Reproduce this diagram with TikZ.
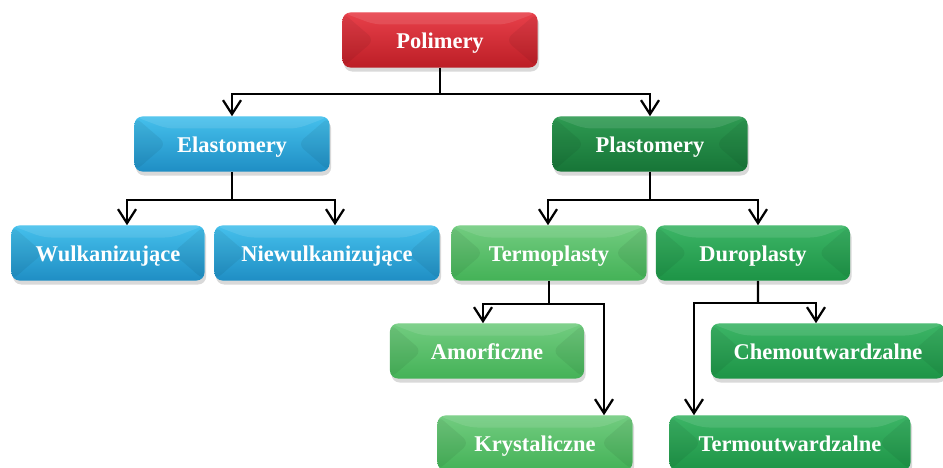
\documentclass[tikz,border=0pt]{standalone}
\usepackage{fontspec}
\setmainfont{Liberation Serif}
\usepackage{tikz}
\usetikzlibrary{arrows.meta, shadows, positioning}
\definecolor{redtop}{HTML}{E8404A}
\definecolor{redbot}{HTML}{BC1E26}
\definecolor{bluetop}{HTML}{45C0EC}
\definecolor{bluebot}{HTML}{1F8EC4}
\definecolor{dgreentop}{HTML}{2E9A52}
\definecolor{dgreenbot}{HTML}{177537}
\definecolor{mgreentop}{HTML}{3CB566}
\definecolor{mgreenbot}{HTML}{1D9446}
\definecolor{lgreentop}{HTML}{72CC80}
\definecolor{lgreenbot}{HTML}{44B257}
\tikzstyle{box} = [rectangle, rounded corners=0.2cm, minimum width=4.875cm, minimum height=1.375cm, text height=0.45cm, text depth=0.05cm, text=white, font=\bfseries\fontsize{16}{19}\selectfont, drop shadow={opacity=0.3, shadow xshift=0.04cm, shadow yshift=-0.1cm}, path picture={
  \fill[black, opacity=0.06] (path picture bounding box.north west) -- ([xshift=0.8cm]path picture bounding box.west) -- (path picture bounding box.south west) -- cycle;
  \fill[black, opacity=0.06] (path picture bounding box.north east) -- ([xshift=-0.8cm]path picture bounding box.east) -- (path picture bounding box.south east) -- cycle;
  \fill[white, opacity=0.1] (path picture bounding box.north west) -- ([xshift=0.8cm, yshift=-0.3cm]path picture bounding box.north west) -- ([xshift=-0.8cm, yshift=-0.3cm]path picture bounding box.north east) -- (path picture bounding box.north east) -- cycle;}]
\tikzstyle{redbox} = [box, top color=redtop, bottom color=redbot]
\tikzstyle{bluebox} = [box, top color=bluetop, bottom color=bluebot]
\tikzstyle{dgreenbox} = [box, top color=dgreentop, bottom color=dgreenbot]
\tikzstyle{mgreenbox} = [box, top color=mgreentop, bottom color=mgreenbot]
\tikzstyle{lgreenbox} = [box, top color=lgreentop, bottom color=lgreenbot]
\tikzstyle{link} = [line width=1.6pt, black]
\tikzstyle{arrow} = [link, -{Straight Barb[length=0.35cm, width=0.45cm]}]

\begin{document}
\begin{tikzpicture}[x=0.025cm, y=-0.025cm]
\useasboundingbox (0,0) rectangle (943,468);
% level 0 and 1
\node (polimery) [redbox] at (440,40) {Polimery};
\node (elast) [bluebox] at (232,144) {Elastomery};
\node (plast) [dgreenbox] at (650,144) {Plastomery};
% level 2
\node (wulk) [bluebox, minimum width=4.825cm] at (108,253) {Wulkanizujące};
\node (niewulk) [bluebox, minimum width=5.625cm] at (327,253) {Niewulkanizujące};
\node (termo) [lgreenbox] at (549,253) {Termoplasty};
\node (duro) [mgreenbox, minimum width=4.85cm] at (753,253) {Duroplasty};
% level 3
\node (amorf) [lgreenbox, minimum width=4.85cm] at (487,351) {Amorficzne};
\node (chemo) [mgreenbox, minimum width=5.85cm] at (828,351) {Chemoutwardzalne};
\node (kryst) [lgreenbox] at (535,443) {Krystaliczne};
\node (termout) [mgreenbox, minimum width=6.025cm] at (790,443) {Termoutwardzalne};
% connectors
\coordinate (j0) at (440,94);
\coordinate (j1) at (232,200);
\coordinate (j2) at (650,200);
\coordinate (j3) at (549,304);
\coordinate (j4) at (758,303);
\draw[link] (polimery.south) -- (j0);
\draw[arrow] (j0) -| (elast.north);
\draw[arrow] (j0) -| (plast.north);
\draw[link] (elast.south) -- (j1);
\draw[arrow] (j1) -| ([xshift=0.475cm]wulk.north);
\draw[arrow] (j1) -| ([xshift=0.2cm]niewulk.north);
\draw[link] (plast.south) -- (j2);
\draw[arrow] (j2) -| ([xshift=-0.025cm]termo.north);
\draw[arrow] (j2) -| ([xshift=0.125cm]duro.north);
\draw[link] (termo.south) -- (j3);
\draw[arrow] (j3) -| ([xshift=-0.1cm]amorf.north);
\draw[arrow] (j3) -| ([xshift=1.725cm]kryst.north);
\draw[link] ([xshift=0.125cm]duro.south) -- (j4);
\draw[arrow] (j4) -| ([xshift=-0.3cm]chemo.north);
\draw[arrow] (j4) -| ([xshift=-2.4cm]termout.north);
\end{tikzpicture}
\end{document}
